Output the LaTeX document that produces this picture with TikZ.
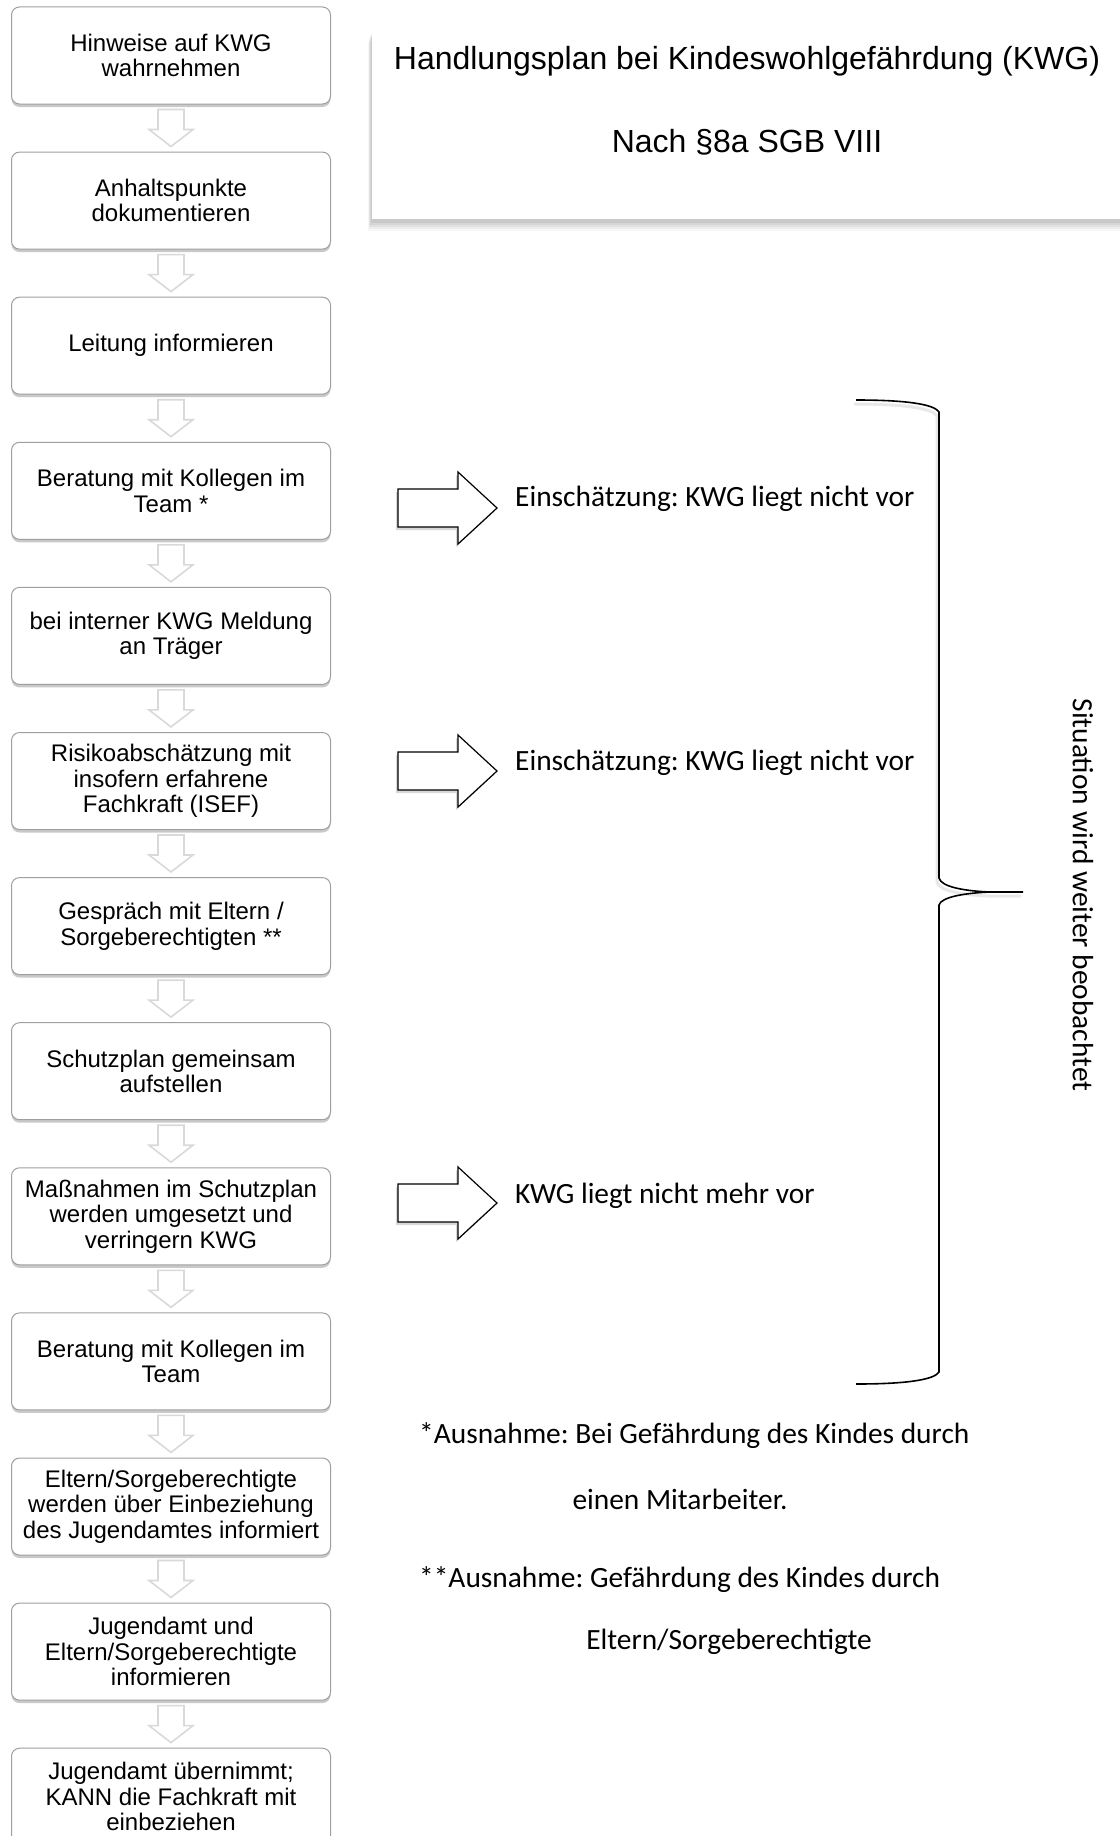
\documentclass[tikz,border=0pt]{standalone}
\usepackage{fontspec}
\setmainfont{Liberation Sans}
\newfontfamily\carl{Carlito}
\frenchspacing
\usetikzlibrary{shadows,calc}
\tikzset{
  flowbox/.style={draw=gray!75, line width=1pt, fill=white, rounded corners=8pt,
    minimum width=319pt, minimum height=97pt, align=center, inner sep=2pt,
    font=\fontsize{24}{25.5}\selectfont,
    drop shadow={shadow xshift=0pt, shadow yshift=-3pt, fill=gray!70, opacity=0.6}},
  chev/.style={fill=white, draw=gray!30, line width=1.6pt, line join=miter},
  blockarrow/.style={draw=black, line width=1.2pt, fill=white,
    drop shadow={shadow xshift=-2pt, shadow yshift=-3pt, fill=gray!60, opacity=0.5}},
  note/.style={font=\carl\fontsize{29.4}{32}\selectfont, inner sep=0pt},
  titletext/.style={font=\fontsize{32}{36}\selectfont, inner sep=0pt},
  bracepath/.style={draw=black, line width=1.6pt},
  softshade/.style={fill=gray, opacity=#1, draw=none},
}
\begin{document}
\begin{tikzpicture}[x=1pt,y=-1pt]
\useasboundingbox[fill=white] (0,0) rectangle (1119,1836);

% title box with soft shadow
\foreach \k/\op in {12/0.06,10/0.08,8/0.10,6/0.12,4/0.14}{
  \path[softshade=\op] (372-\k/3,30+\k) rectangle (1135,219+\k);
}
\path[fill=white] (372,30) rectangle (1135,219);
\node[titletext] (title1) at (747,61) {Handlungsplan bei Kindeswohlgefährdung (KWG)};
\node[titletext] (title2) at (747,142) {Nach §8a SGB VIII};

% flow boxes
\node[flowbox] (b1)  at (171,{7+0*145.1+48.5})  {Hinweise auf KWG\\wahrnehmen};
\node[flowbox] (b2)  at (171,{7+1*145.1+48.5})  {Anhaltspunkte\\dokumentieren};
\node[flowbox] (b3)  at (171,{7+2*145.1+48.5})  {Leitung informieren};
\node[flowbox] (b4)  at (171,{7+3*145.1+48.5})  {Beratung mit Kollegen im\\Team *};
\node[flowbox] (b5)  at (171,{7+4*145.1+48.5})  {bei interner KWG Meldung\\an Träger};
\node[flowbox] (b6)  at (171,{7+5*145.1+48.5})  {Risikoabschätzung mit\\insofern erfahrene\\Fachkraft (ISEF)};
\node[flowbox] (b7)  at (171,{7+6*145.1+48.5})  {Gespräch mit Eltern /\\Sorgeberechtigten **};
\node[flowbox] (b8)  at (171,{7+7*145.1+48.5})  {Schutzplan gemeinsam\\aufstellen};
\node[flowbox] (b9)  at (171,{7+8*145.1+48.5})  {Maßnahmen im Schutzplan\\werden umgesetzt und\\verringern KWG};
\node[flowbox] (b10) at (171,{7+9*145.1+48.5})  {Beratung mit Kollegen im\\Team};
\node[flowbox] (b11) at (171,{7+10*145.1+48.5}) {Eltern/Sorgeberechtigte\\werden über Einbeziehung\\des Jugendamtes informiert};
\node[flowbox] (b12) at (171,{7+11*145.1+48.5}) {Jugendamt und\\Eltern/Sorgeberechtigte\\informieren};
\node[flowbox] (b13) at (171,{7+12*145.1+48.5}) {Jugendamt übernimmt;\\KANN die Fachkraft mit\\einbeziehen};

% chevron connectors
\foreach \i/\j in {b1/b2,b2/b3,b3/b4,b4/b5,b5/b6,b6/b7,b7/b8,b8/b9,b9/b10,b10/b11,b11/b12,b12/b13}{
  \draw[chev] ($(\i.south)+(-13,5)$) -- ($(\i.south)+(13,5)$) -- ($(\i.south)+(13,25)$)
    -- ($(\i.south)+(22,25)$) -- ($(\i.south)+(0,42)$) -- ($(\i.south)+(-22,25)$)
    -- ($(\i.south)+(-13,25)$) -- cycle;
}

% block arrows and assessments
\foreach \yy in {508,771,1203}{
  \path[blockarrow] (398,\yy-19) -- (458,\yy-19) -- (458,\yy-36) -- (497,\yy)
    -- (458,\yy+36) -- (458,\yy+19) -- (398,\yy+19) -- cycle;
}
\node[note, anchor=west] (e1) at (515,499) {Einschätzung: KWG liegt nicht vor};
\node[note, anchor=west] (e2) at (515,763) {Einschätzung: KWG liegt nicht vor};
\node[note, anchor=west] (e3) at (515,1196) {KWG liegt nicht mehr vor};

% brace
\path[draw=gray!50, line width=3pt, opacity=0.35, shift={(-2pt,-4pt)}]
  (856,400) .. controls (905,400) and (934,404) .. (939,412) -- (939,878)
  .. controls (941,887) and (965,891) .. (990,892) -- (1023,892);
\draw[bracepath] (856,400) .. controls (905,400) and (934,404) .. (939,412) -- (939,878)
  .. controls (941,887) and (965,891) .. (990,892) -- (1023,892);
\draw[bracepath] (990,892) .. controls (965,893) and (941,897) .. (939,905) -- (939,1372)
  .. controls (934,1380) and (905,1384) .. (856,1384);
\coordinate (bracetip) at (1023,892);
\node[note, rotate=-90] (situ) at (1083,895) {Situation wird weiter beobachtet};

% footnotes
\node[note, anchor=west] (f1) at (419,1436) {*Ausnahme: Bei Gefährdung des Kindes durch};
\node[note] (f2) at (680,1499) {einen Mitarbeiter.};
\node[note, anchor=west] (f3) at (419,1580) {**Ausnahme: Gefährdung des Kindes durch};
\node[note] (f4) at (729,1642) {Eltern/Sorgeberechtigte};
\end{tikzpicture}
\end{document}
